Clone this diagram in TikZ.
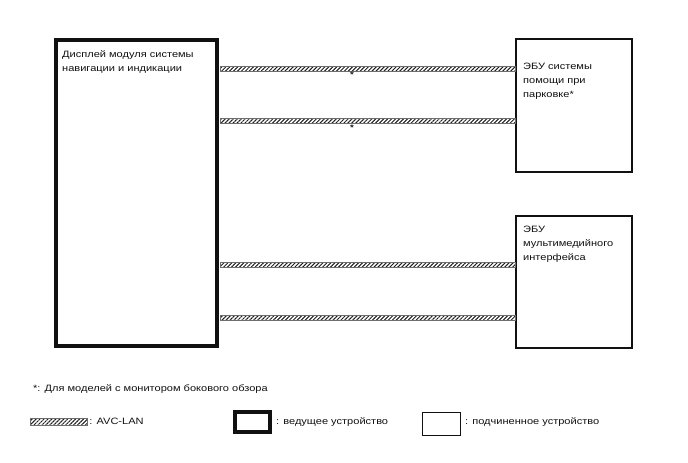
\documentclass[tikz,border=0pt]{standalone}
\usepackage{fontspec}
\setmainfont{Liberation Sans}[FakeStretch=1.2]
\usepackage{xcolor}
\usepackage{tikz}
\usetikzlibrary{positioning,calc,patterns.meta}
\definecolor{ink}{HTML}{111111}
\definecolor{cablegray}{HTML}{6E6E6E}
\definecolor{hatch}{HTML}{1E1E1E}
\tikzset{
  master/.style={draw=ink, line width=4pt, fill=white, inner sep=0pt},
  slave/.style={draw=ink, line width=1.3pt, fill=white, inner sep=0pt},
  cable/.style={draw=cablegray, line width=.5pt, fill=white,
    pattern={Lines[angle=45,distance=2.8pt,line width=1pt]}, pattern color=hatch},
  boxtext/.style={anchor=north west, inner sep=0pt, align=left,
    font=\fontsize{9.2}{14}\selectfont, text=ink},
  legtext/.style={anchor=base west, inner sep=0pt, font=\fontsize{9.2}{14}\selectfont, text=ink},
  star/.style={inner sep=0pt, font=\bfseries\fontsize{8}{8}\selectfont, text=ink}
}
\begin{document}
\begin{tikzpicture}[x=1pt,y=-1pt]
  \useasboundingbox (0,0) rectangle (688,463);
  % units
  \node[master, minimum width=161, minimum height=306] (disp) at (136.5,193) {};
  \node[slave, minimum width=116, minimum height=133] (park) at (574,105.5) {};
  \node[slave, minimum width=116, minimum height=132] (mmi) at (574,282) {};
  \node[boxtext] (disptxt) at (62,50.5) {Дисплей модуля системы\\навигации и индикации};
  \node[boxtext] (parktxt) at (523,62.5) {ЭБУ системы\\помощи при\\парковке*};
  \node[boxtext] (mmitxt) at (523,226) {ЭБУ\\мультимедийного\\интерфейса};
  % AVC-LAN lines
  \coordinate (a1) at ($(disp.east |- 0,66)+(1.5,0)$);  \coordinate (b1) at (park.west |- 0,71);
  \coordinate (a2) at ($(disp.east |- 0,118.5)+(1.5,0)$); \coordinate (b2) at (park.west |- 0,123.5);
  \coordinate (a3) at ($(disp.east |- 0,262)+(1.5,0)$); \coordinate (b3) at (mmi.west |- 0,267);
  \coordinate (a4) at ($(disp.east |- 0,315)+(1.5,0)$); \coordinate (b4) at (mmi.west |- 0,320);
  \path[cable] (a1) rectangle (b1);
  \path[cable] (a2) rectangle (b2);
  \path[cable] (a3) rectangle (b3);
  \path[cable] (a4) rectangle (b4);
  \node[star, anchor=north] (s1) at (352,71.5) {*};
  \node[star, anchor=north] (s2) at (352,124.5) {*};
  % legend
  \node[legtext] (note) at (33,391.5) {*: Для моделей с монитором бокового обзора};
  \node[cable, minimum width=57, minimum height=5] (avc) at (59,421.5) {};
  \node[legtext, right=1.5pt of avc.east, anchor=west] (avctxt) {: AVC-LAN};
  \node[master, minimum width=35, minimum height=20] (legm) at (252.5,422) {};
  \node[legtext] (legmtxt) at (276,424.5) {: ведущее устройство};
  \node[slave, minimum width=38, minimum height=23] (legs) at (441.5,424) {};
  \node[legtext] (legstxt) at (465,424.5) {: подчиненное устройство};
\end{tikzpicture}
\end{document}
